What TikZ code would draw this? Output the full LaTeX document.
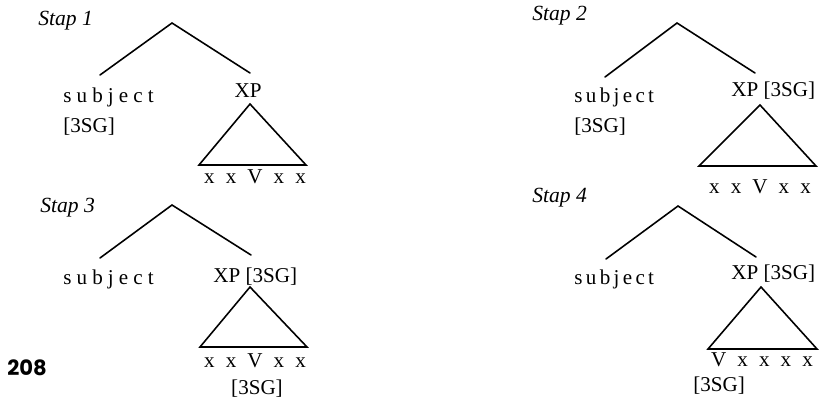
\documentclass[tikz,border=0pt]{standalone}
\usepackage{fontspec}
\setmainfont{Liberation Serif}
\newfontfamily\pagefont{Poppins}
\usetikzlibrary{positioning}
\newcommand\lgap{\hspace{6.3pt}}
\newcommand\spacedword[1]{s\kern#1 u\kern#1 b\kern#1 j\kern#1 e\kern#1 c\kern#1 t}
\tikzset{
  word/.style={inner sep=0pt,font=\fontsize{12}{14}\selectfont},
  stapname/.style={inner sep=0pt,font=\fontsize{12.3}{14}\selectfont\itshape,anchor=base west},
  branch/.style={line width=0.9pt,line cap=round},
  tri/.style={line width=0.9pt,line join=miter}
}

\begin{document}
\begin{tikzpicture}[x=0.02cm,y=-0.02cm]
\useasboundingbox (0,0) rectangle (820,396);

% Stap 1
\node[stapname] (s1) at (38,25) {Stap 1};
\coordinate (top1) at (172,23);
\coordinate (l1) at (100,75);
\coordinate (r1) at (250,73);
\node[word,anchor=base west] (subj1) at (63,102) {\spacedword{2.9pt}};
\node[word,anchor=base west] (feat1) at (63,132) {[3SG]};
\node[word,anchor=base] (xp1) at (248,97) {XP};
\coordinate (ta1) at (250,104);
\coordinate (tl1) at (199,165);
\coordinate (tr1) at (306,165);
\node[word,anchor=base] (leaf1) at (255,183) {x\lgap x\lgap V\lgap x\lgap x};
\draw[branch] (l1) -- (top1) -- (r1);
\draw[tri] (ta1) -- (tl1) -- (tr1) -- cycle;

% Stap 2
\node[stapname] (s2) at (532,20) {Stap 2};
\coordinate (top2) at (677,23);
\coordinate (l2) at (605,77);
\coordinate (r2) at (755,73);
\node[word,anchor=base west] (subj2) at (574,102) {\spacedword{1.9pt}};
\node[word,anchor=base west] (feat2) at (574,132) {[3SG]};
\node[word,anchor=base west] (xp2) at (731,96) {XP [3SG]};
\coordinate (ta2) at (760,105);
\coordinate (tl2) at (699,166);
\coordinate (tr2) at (816,166);
\node[word,anchor=base] (leaf2) at (760,193) {x\lgap x\lgap V\lgap x\lgap x};
\draw[branch] (l2) -- (top2) -- (r2);
\draw[tri] (ta2) -- (tl2) -- (tr2) -- cycle;

% Stap 3
\node[stapname] (s3) at (40,212) {Stap 3};
\coordinate (top3) at (172,205);
\coordinate (l3) at (100,258);
\coordinate (r3) at (251,255);
\node[word,anchor=base west] (subj3) at (63,284) {\spacedword{2.9pt}};
\node[word,anchor=base west] (xp3) at (213,282) {XP [3SG]};
\coordinate (ta3) at (250,287);
\coordinate (tl3) at (200,347);
\coordinate (tr3) at (307,347);
\node[word,anchor=base] (leaf3) at (255,367) {x\lgap x\lgap V\lgap x\lgap x};
\node[word,anchor=base] (feat3) at (257,394) {[3SG]};
\draw[branch] (l3) -- (top3) -- (r3);
\draw[tri] (ta3) -- (tl3) -- (tr3) -- cycle;

% Stap 4
\node[stapname] (s4) at (532,202) {Stap 4};
\coordinate (top4) at (678,206);
\coordinate (l4) at (606,259);
\coordinate (r4) at (756,257);
\node[word,anchor=base west] (subj4) at (574,284) {\spacedword{1.9pt}};
\node[word,anchor=base west] (xp4) at (731,279) {XP [3SG]};
\coordinate (ta4) at (761,287);
\coordinate (tl4) at (708,349);
\coordinate (tr4) at (817,349);
\node[word,anchor=base] (leaf4) at (762,366) {V\lgap x\lgap x\lgap x\lgap x};
\node[word,anchor=base west] (feat4) at (693,391) {[3SG]};
\draw[branch] (l4) -- (top4) -- (r4);
\draw[tri] (ta4) -- (tl4) -- (tr4) -- cycle;

% page number
\node[inner sep=0pt,font=\pagefont\bfseries\fontsize{12}{13}\selectfont] (page) at (27,368) {208};
\end{tikzpicture}
\end{document}
